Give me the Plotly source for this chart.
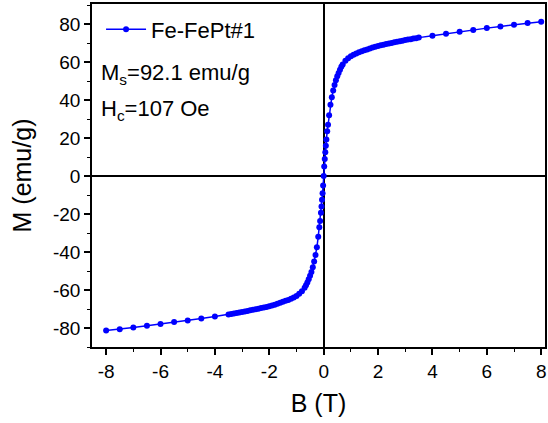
import plotly.graph_objects as go

# Magnetic field B (T)
B = [-8.0, -7.5, -7.0, -6.5, -6.0, -5.5, -5.0, -4.5, -4.0, -3.5, -3.4, -3.3, -3.2, -3.1, -3.0,
     -2.9, -2.8, -2.7, -2.6, -2.5, -2.4, -2.3, -2.2, -2.1, -2.0, -1.9, -1.8, -1.7, -1.6, -1.5,
     -1.4, -1.3, -1.2, -1.1, -1.0, -0.9, -0.8, -0.7, -0.65, -0.6, -0.55, -0.5, -0.45, -0.4,
     -0.35, -0.3, -0.25, -0.2, -0.16, -0.13, -0.1, -0.08, -0.06, -0.04, -0.02, 0.0,
     0.02, 0.04, 0.06, 0.08, 0.1, 0.13, 0.16, 0.2, 0.25, 0.3, 0.35, 0.4, 0.45, 0.5, 0.55,
     0.6, 0.65, 0.7, 0.8, 0.9, 1.0, 1.1, 1.2, 1.3, 1.4, 1.5, 1.6, 1.7, 1.8, 1.9, 2.0, 2.1,
     2.2, 2.3, 2.4, 2.5, 2.6, 2.7, 2.8, 2.9, 3.0, 3.1, 3.2, 3.3, 3.4, 3.5, 4.0, 4.5, 5.0,
     5.5, 6.0, 6.5, 7.0, 7.5, 8.0]

# Magnetization M (emu/g)
M = [-81.3, -80.6, -79.7, -78.8, -77.9, -76.9, -76.0, -75.0, -73.9, -72.9, -72.6, -72.4, -72.1, -71.9, -71.6,
     -71.3, -71.0, -70.7, -70.4, -70.1, -69.8, -69.5, -69.2, -68.9, -68.5, -68.1, -67.7, -67.2, -66.7, -66.2,
     -65.7, -65.2, -64.6, -63.9, -63.1, -62.0, -60.7, -58.8, -57.5, -56.0, -54.3, -52.5, -50.5, -48.0,
     -45.0, -41.5, -37.5, -32.0, -27.0, -23.6, -19.3, -16.0, -12.5, -9.0, -5.0, 0.0,
     5.0, 9.0, 12.5, 16.0, 19.3, 23.6, 27.0, 32.0, 37.5, 41.5, 45.0, 48.0, 50.5, 52.5, 54.3,
     56.0, 57.5, 58.8, 60.7, 62.0, 63.1, 63.9, 64.6, 65.2, 65.7, 66.2, 66.7, 67.2, 67.7, 68.1, 68.5, 68.9,
     69.2, 69.5, 69.8, 70.1, 70.4, 70.7, 71.0, 71.3, 71.6, 71.9, 72.1, 72.4, 72.6, 72.9, 73.9, 75.0, 76.0,
     76.9, 77.9, 78.8, 79.7, 80.6, 81.3]

x_tickvals = [-8, -6, -4, -2, 0, 2, 4, 6, 8]
x_ticktext = ["-8", "-6", "-4", "-2", "0", "2", "4", "6", "8"]
y_tickvals = [-80, -60, -40, -20, 0, 20, 40, 60, 80]
y_ticktext = ["-80", "-60", "-40", "-20", "0", "20", "40", "60", "80"]

FONT = "Arial, Liberation Sans, sans-serif"

fig = go.Figure()
fig.add_trace(go.Scatter(
    x=B, y=M, mode="lines+markers", name="Fe-FePt#1",
    line=dict(color="#0000FF", width=1.5),
    marker=dict(color="#0000FF", size=6),
))

axis_common = dict(
    showline=True, linecolor="black", linewidth=1.5, mirror=True,
    ticks="outside", ticklen=6, tickwidth=1.5, tickcolor="black",
    showgrid=False, zeroline=True, zerolinecolor="black", zerolinewidth=1.5,
    tickfont=dict(family=FONT, size=19, color="black"),
    minor=dict(ticks="outside", ticklen=3, tickwidth=1.2, tickcolor="black", showgrid=False),
)

fig.update_xaxes(
    range=[-8.52, 8.14], tickvals=x_tickvals, ticktext=x_ticktext,
    minor_dtick=1, minor_tick0=0,
    title=dict(text="B (T)", font=dict(family=FONT, size=25, color="black"), standoff=14),
    **axis_common,
)
fig.update_yaxes(
    range=[-90, 90.6], tickvals=y_tickvals, ticktext=y_ticktext,
    minor_dtick=10, minor_tick0=0,
    title=dict(text="M (emu/g)", font=dict(family=FONT, size=25, color="black"), standoff=14),
    **axis_common,
)

fig.add_annotation(xref="paper", yref="paper", x=0.015, y=0.795, xanchor="left", yanchor="middle",
                   text="M<sub>s</sub>=92.1 emu/g", showarrow=False,
                   font=dict(family=FONT, size=22, color="black"))
fig.add_annotation(xref="paper", yref="paper", x=0.015, y=0.69, xanchor="left", yanchor="middle",
                   text="H<sub>c</sub>=107 Oe", showarrow=False,
                   font=dict(family=FONT, size=22, color="black"))

fig.update_layout(
    width=548, height=423,
    margin=dict(l=92, r=1, t=4, b=76),
    paper_bgcolor="white", plot_bgcolor="white",
    showlegend=True,
    legend=dict(x=0.02, y=0.987, xanchor="left", yanchor="top", bgcolor="rgba(0,0,0,0)",
                font=dict(family=FONT, size=22, color="black"), itemwidth=40),
)

fig.write_html("out.html")
